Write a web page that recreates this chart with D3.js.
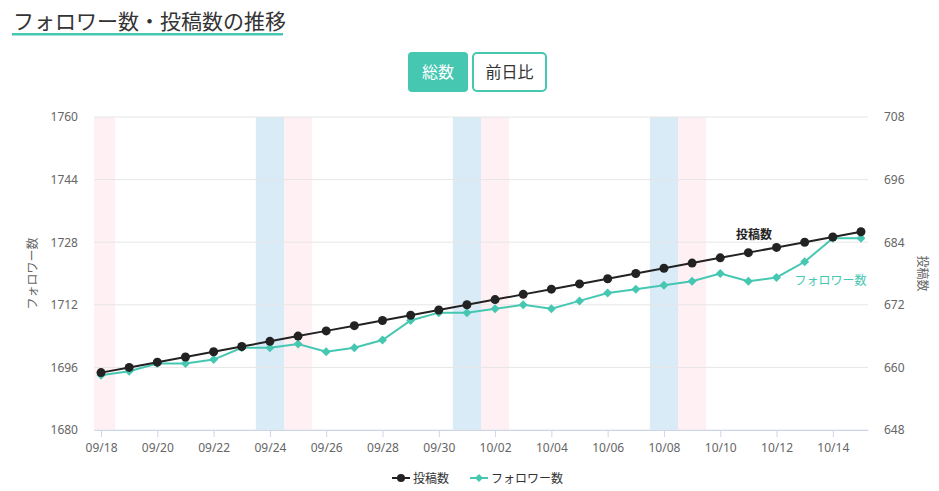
<!DOCTYPE html>
<html>
<head>
<meta charset="utf-8">
<script src="https://cdn.jsdelivr.net/npm/d3@7"></script>
<style>
body { margin: 0; background: #fff; }
text { font-family: "Noto Sans CJK JP", "Noto Sans", sans-serif; }
.num { font-family: "Noto Sans", sans-serif; }
</style>
</head>
<body>
<svg id="chart" width="939" height="491"></svg>
<script>
// data
const dates = ["09/18","09/19","09/20","09/21","09/22","09/23","09/24","09/25","09/26","09/27",
  "09/28","09/29","09/30","10/01","10/02","10/03","10/04","10/05","10/06","10/07",
  "10/08","10/09","10/10","10/11","10/12","10/13","10/14","10/15"]
const posts = [659,660,661,662,663,664,665,666,667,668,669,670,671,672,673,674,675,676,677,678,
  679,680,681,682,683,684,685,686]
const followers = [1694,1695,1697,1697,1698,1701,1701,1702,1700,1701,1703,1708,1710,1710,1711,1712,
  1711,1713,1715,1716,1717,1718,1720,1718,1719,1723,1729,1729]
const leftTicks = [1680,1696,1712,1728,1744,1760]
const rightTicks = [648,660,672,684,696,708]
const saturdays = [6,13,20]
const sundays = [0,7,14,21]

const black = "#222222"
const teal = "#45c7b2"

const svg = d3.select("#chart")
const margin = {top: 117, right: 71, bottom: 61, left: 94}
const W = 939, H = 491
const width = W - margin.left - margin.right
const height = H - margin.top - margin.bottom

// title + buttons
svg.append("text").attr("x", 13).attr("y", 29)
  .attr("font-size", 21).attr("fill", "#333").text("フォロワー数・投稿数の推移")
svg.append("rect").attr("x", 12).attr("y", 33).attr("width", 271).attr("height", 2.5).attr("fill", teal)

svg.append("rect").attr("x", 408).attr("y", 52).attr("width", 60).attr("height", 40)
  .attr("rx", 4).attr("fill", teal)
svg.append("text").attr("x", 438).attr("y", 78).attr("text-anchor", "middle")
  .attr("font-size", 16).attr("fill", "#fff").text("総数")
svg.append("rect").attr("x", 473).attr("y", 53).attr("width", 73).attr("height", 38)
  .attr("rx", 4).attr("fill", "#fff").attr("stroke", teal).attr("stroke-width", 2)
svg.append("text").attr("x", 509.5).attr("y", 78).attr("text-anchor", "middle")
  .attr("font-size", 16).attr("fill", "#333").text("前日比")

const g = svg.append("g").attr("transform", `translate(${margin.left},${margin.top})`)

const x = d3.scaleLinear().domain([-0.25, dates.length - 0.75]).range([0, width])
const yL = d3.scaleLinear().domain([1680, 1760]).range([height, 0])
const yR = d3.scaleLinear().domain([648, 708]).range([height, 0])

// weekend bands
function band(idx, color) {
  g.selectAll(null).data(idx).enter().append("rect")
    .attr("x", d => x(Math.max(d - 0.5, x.domain()[0])))
    .attr("width", d => x(Math.min(d + 0.5, x.domain()[1])) - x(Math.max(d - 0.5, x.domain()[0])))
    .attr("y", 0).attr("height", height).attr("fill", color)
}
band(saturdays, "#d9ebf7")
band(sundays, "#fff0f3")

// grid
g.selectAll(".grid").data(leftTicks).enter().append("line")
  .attr("x1", 0).attr("x2", width)
  .attr("y1", d => yL(d)).attr("y2", d => yL(d))
  .attr("stroke", "#e6e6e6")

// left axis
const axL = g.append("g").call(d3.axisLeft(yL).tickValues(leftTicks).tickFormat(d3.format("d"))
  .tickSize(0).tickPadding(16))
axL.select(".domain").remove()
axL.selectAll("text").attr("class", "num").attr("font-size", 12).attr("fill", "#666")

// right axis
const axR = g.append("g").attr("transform", `translate(${width},0)`)
  .call(d3.axisRight(yR).tickValues(rightTicks).tickFormat(d3.format("d")).tickSize(0).tickPadding(16))
axR.select(".domain").remove()
axR.selectAll("text").attr("class", "num").attr("font-size", 12).attr("fill", "#666")

// bottom axis
const axB = g.append("g").attr("transform", `translate(0,${height})`)
  .call(d3.axisBottom(x).tickValues(d3.range(0, dates.length, 2)).tickFormat(i => dates[i])
    .tickSizeInner(7).tickSizeOuter(0).tickPadding(6))
axB.select(".domain").attr("stroke", "#ccd6eb")
axB.selectAll(".tick line").attr("stroke", "#ccd6eb")
axB.selectAll("text").attr("class", "num").attr("font-size", 12).attr("fill", "#666")

// axis titles
svg.append("text").attr("transform", `translate(37,${margin.top + height / 2}) rotate(-90)`)
  .attr("text-anchor", "middle").attr("font-size", 12).attr("fill", "#666").text("フォロワー数")
svg.append("text").attr("transform", `translate(918,${margin.top + height / 2}) rotate(90)`)
  .attr("text-anchor", "middle").attr("font-size", 12).attr("fill", "#666").text("投稿数")

// follower line
g.append("path").datum(followers)
  .attr("fill", "none").attr("stroke", teal).attr("stroke-width", 2)
  .attr("d", d3.line().x((d, i) => x(i)).y(d => yL(d)))
const diamond = (cx, cy, r) => `M${cx},${cy - r}L${cx + r},${cy}L${cx},${cy + r}L${cx - r},${cy}Z`
g.selectAll(".fdot").data(followers).enter().append("path")
  .attr("d", (d, i) => diamond(x(i), yL(d), 4.5)).attr("fill", teal)

// post line
g.append("path").datum(posts)
  .attr("fill", "none").attr("stroke", black).attr("stroke-width", 2)
  .attr("d", d3.line().x((d, i) => x(i)).y(d => yR(d)))
g.selectAll(".pdot").data(posts).enter().append("circle")
  .attr("cx", (d, i) => x(i)).attr("cy", d => yR(d)).attr("r", 4.5).attr("fill", black)

// series labels
g.append("text").attr("x", x(23.2)).attr("y", yR(posts[23]) - 14)
  .attr("text-anchor", "middle").attr("font-size", 12).attr("font-weight", "bold")
  .attr("fill", black).text("投稿数")
g.append("text").attr("x", x(27.2)).attr("y", yL(followers[21]) + 4)
  .attr("text-anchor", "end").attr("font-size", 12).attr("fill", teal).text("フォロワー数")

// legend
const legend = [
  {name: "投稿数", color: black, shape: "circle"},
  {name: "フォロワー数", color: teal, shape: "diamond"}
]
const ly = 478
let lx = 392
legend.forEach(it => {
  const lg = svg.append("g")
  lg.append("line").attr("x1", lx).attr("x2", lx + 18).attr("y1", ly).attr("y2", ly)
    .attr("stroke", it.color).attr("stroke-width", 2)
  if (it.shape === "circle") lg.append("circle").attr("cx", lx + 9).attr("cy", ly).attr("r", 4).attr("fill", it.color)
  else lg.append("path").attr("d", diamond(lx + 9, ly, 4)).attr("fill", it.color)
  const t = lg.append("text").attr("x", lx + 21).attr("y", ly + 4.5)
    .attr("font-size", 12).attr("fill", "#333").text(it.name)
  lx += 21 + t.node().getComputedTextLength() + 21
})
</script>
</body>
</html>
